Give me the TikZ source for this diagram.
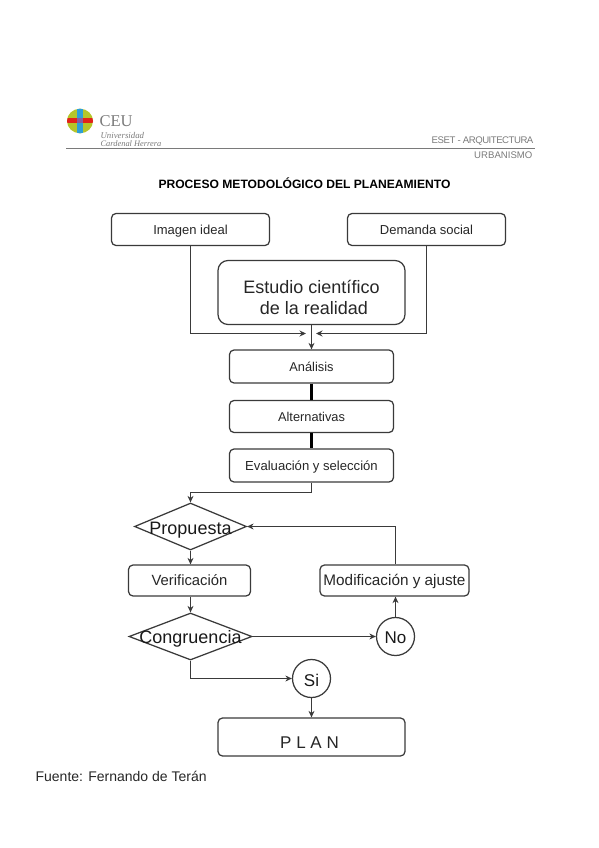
\documentclass[tikz,border=0pt]{standalone}
\usepackage{fontspec}
\setmainfont{Liberation Sans}
\newfontfamily\logofont{Liberation Serif}
\usepackage{xcolor}
\usetikzlibrary{shapes.geometric,arrows.meta}
\definecolor{linegray}{HTML}{3A3A3A}
\definecolor{headgray}{HTML}{7A7A7A}
\definecolor{ceugreen}{HTML}{B5C52A}
\definecolor{ceured}{HTML}{E2231A}
\definecolor{ceublue}{HTML}{2E9FD8}
\definecolor{ceupurple}{HTML}{8A5A9E}
\newcommand{\fs}[1]{\fontsize{#1}{#1}\selectfont}
\begin{document}
\begin{tikzpicture}[x=1pt,y=-1pt,>={Stealth[length=6.5pt,width=6pt]},line width=1.25pt,color=linegray]
  \tikzstyle{stepbox}=[rectangle,rounded corners=4.5pt,draw=linegray,inner sep=0pt,align=center,text=black!85,text depth=0pt]
  \tikzstyle{choice}=[diamond,draw=linegray,inner sep=0pt,aspect=2.4,text=black!90,text depth=0pt]
  \tikzstyle{answer}=[circle,draw=linegray,inner sep=0pt,minimum size=38pt,text=black!90,text depth=0pt]
  \tikzstyle{headtext}=[inner sep=0pt,text=headgray,anchor=east]

  \useasboundingbox (0,0) rectangle (599,848);

  % logo
  \begin{scope}
    \clip (80,121) ellipse (13 and 12.3);
    \fill[ceugreen] (66,107) rectangle (94,135);
    \fill[ceublue] (76.8,107) rectangle (83.2,135);
    \fill[ceured] (66,118) rectangle (94,123.5);
    \fill[ceupurple] (76.8,118) rectangle (83.2,123.5);
  \end{scope}
  \node[inner sep=0pt,anchor=west,text=headgray] (ceu) at (99,121) {\logofont\fs{16.5}CEU};
  \node[inner sep=0pt,anchor=west,text=headgray] (univ) at (100,135) {\logofont\itshape\fs{8.8}Universidad};
  \node[inner sep=0pt,anchor=west,text=headgray] (card) at (100,143.5) {\logofont\itshape\fs{8.4}Cardenal Herrera};

  % header
  \node[headtext] (eset) at (534,141) {\fs{9.6}\addfontfeature{LetterSpace=-5}ESET - ARQUITECTURA};
  \node[headtext] (urb) at (533,155.5) {\fs{9.6}URBANISMO};
  \coordinate (ruleL) at (66,148.5);
  \coordinate (ruleR) at (535,148.5);
  \draw[headgray,line width=0.8pt] (ruleL) -- (ruleR);
  \node[inner sep=0pt,text=black] (title) at (304.5,183) {\fs{12.1}\bfseries PROCESO METODOLÓGICO DEL PLANEAMIENTO};

  % boxes
  \node[stepbox,minimum width=158pt,minimum height=32pt,font=\fs{13},text height=9pt] (ideal) at (190.5,229.5) {Imagen ideal};
  \node[stepbox,minimum width=158pt,minimum height=32pt,font=\fs{13},text height=9pt] (demanda) at (426.5,229.5) {Demanda social};
  \node[stepbox,rounded corners=10pt,minimum width=187pt,minimum height=64pt,font=\fs{18},text depth=] (estudio) at (311.5,292.5) {\rule{0pt}{23pt}Estudio científico\\[2.5pt]\ de la realidad};
  \node[stepbox,minimum width=164pt,minimum height=33pt,font=\fs{12.8},text height=9pt] (analisis) at (311.5,366.5) {Análisis};
  \node[stepbox,minimum width=164pt,minimum height=32pt,font=\fs{12.8},text height=9pt] (alt) at (311.5,416.5) {Alternativas};
  \node[stepbox,minimum width=164pt,minimum height=33pt,font=\fs{13.1},text height=9pt] (eval) at (311.5,465.5) {Evaluación y selección};
  \node[choice,minimum width=112pt,minimum height=47pt,font=\fs{18},text height=15pt] (prop) at (190.5,526.5) {\makebox[0pt]{Propuesta}};
  \node[stepbox,minimum width=122pt,minimum height=31pt,font=\fs{14.8},text height=10.4pt] (verif) at (189.5,580.5) {Verificación};
  \node[stepbox,minimum width=149pt,minimum height=31pt,font=\fs{15.3},text height=10.4pt] (modif) at (394.5,580.5) {Modificación y ajuste};
  \node[choice,minimum width=123pt,minimum height=47pt,font=\fs{18},text height=13pt] (congr) at (190.5,636.5) {\makebox[0pt]{Congruencia}};
  \node[answer,font=\fs{17},text height=13pt] (no) at (395.5,636.5) {No};
  \node[answer,font=\fs{17},text height=15pt] (si) at (311.5,678.5) {Si};
  \node[stepbox,minimum width=187pt,minimum height=38pt,font=\fs{17},text height=22pt] (plan) at (311.5,737) {P L A N\hspace*{4pt}};
  \node[inner sep=0pt,anchor=west,text=black!85] (fuente) at (35,776) {\fs{14}Fuente: Fernando de Terán};

  % connectors
  \coordinate (inL) at (306,333.5);
  \coordinate (inR) at (316,333.5);
  \draw[->] (ideal.south) |- (inL);
  \draw[->] (demanda.south) |- (inR);
  \draw[->] (estudio.south -| analisis.north) -- (analisis.north);
  \draw[line width=2.4pt,black] (analisis) -- (alt);
  \draw[line width=2.4pt,black] (alt) -- (eval);
  \draw[->] (eval.south) -- ++(0,9.5) -| (prop.north);
  \draw[->] (prop.south) -- (prop.south |- verif.north);
  \draw[->] (prop.south |- verif.south) -- (congr.north);
  \draw[->] (congr.east) -- (no.west);
  \draw[->] (no.north) -- (modif.south -| no.north);
  \draw[->] (modif.north -| no.north) |- (prop.east);
  \draw[->] (congr.south) |- (si.west);
  \draw[->] (si.south) -- (si.south |- plan.north);
\end{tikzpicture}
\end{document}
